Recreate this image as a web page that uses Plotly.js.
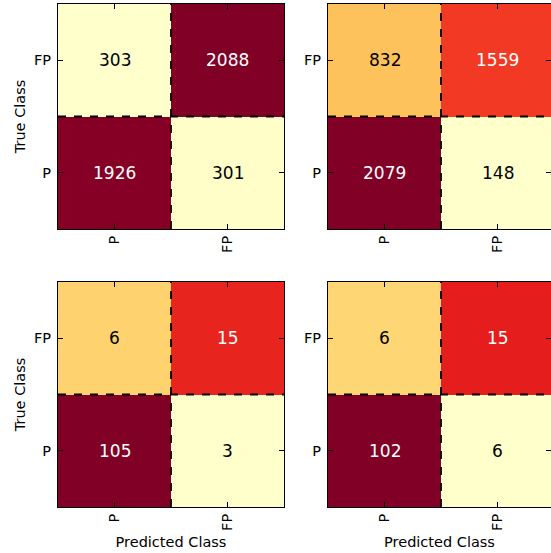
<!DOCTYPE html>
<html>
<head>
<meta charset="utf-8">
<script src="https://cdn.plot.ly/plotly-3.0.1.min.js"></script>
<style>html,body{margin:0;padding:0;background:#fff;}#chart{width:551px;height:553px;}</style>
</head>
<body>
<div id="chart"></div>
<script>
// Class labels (true rows / predicted columns)
const classes = ['P', 'FP'];
// Confusion matrices: rows = true class [P, FP], cols = predicted class [P, FP]
const cmTopLeft     = [[1926, 301], [303, 2088]];
const cmTopRight    = [[2079, 148], [832, 1559]];
const cmBottomLeft  = [[105, 3],    [6, 15]];
const cmBottomRight = [[102, 6],    [6, 15]];
const xTitle = 'Predicted Class';
const yTitle = 'True Class';

const ylorrd = [
  [0, '#ffffcc'], [0.125, '#ffeda0'], [0.25, '#fed976'], [0.375, '#feb24c'],
  [0.5, '#fd8d3c'], [0.625, '#fc4e2a'], [0.75, '#e31a1c'], [0.875, '#bd0026'], [1, '#800026']
];

const W = 551, H = 553;
const FONT = '"DejaVu Sans", "Liberation Sans", sans-serif';

const panels = [
  {cm: cmTopLeft,     col: 0, row: 0},
  {cm: cmTopRight,    col: 1, row: 0},
  {cm: cmBottomLeft,  col: 0, row: 1},
  {cm: cmBottomRight, col: 1, row: 1}
];
const colX = [[58 / W, 284 / W], [328 / W, 1]];
const colRange = [[-0.5, 1.5], [-0.5, 1.5 - 3 / 113]];
const rowY = [[(H - 229) / H, (H - 4) / H], [(H - 507) / H, (H - 282) / H]];

const data = [];
const layout = {
  width: W, height: H,
  margin: {l: 0, r: 0, t: 0, b: 0},
  paper_bgcolor: '#fff', plot_bgcolor: '#fff',
  font: {family: FONT, color: '#000'},
  showlegend: false,
  annotations: [],
  shapes: []
};

panels.forEach((p, i) => {
  const n = i + 1;
  const xa = n === 1 ? 'x' : 'x' + n;
  const ya = n === 1 ? 'y' : 'y' + n;
  const norm = p.cm.map(r => { const s = r.reduce((a, b) => a + b, 0); return r.map(v => v / s); });
  data.push({
    type: 'heatmap', x: classes, y: classes, z: norm,
    colorscale: ylorrd, showscale: false, hoverinfo: 'skip',
    xaxis: xa, yaxis: ya, xgap: 0, ygap: 0
  });
  p.cm.forEach((r, ri) => r.forEach((v, ci) => {
    layout.annotations.push({
      xref: xa, yref: ya, x: classes[ci], y: classes[ri],
      text: String(v), showarrow: false,
      font: {family: FONT, size: 17, color: norm[ri][ci] > 0.5 ? '#ffffff' : '#000000'}
    });
  }));
  const axCommon = {
    type: 'category', showgrid: false, zeroline: false,
    showline: true, linecolor: '#000', linewidth: 1, mirror: 'ticks',
    ticks: 'inside', ticklen: 5, tickwidth: 1, tickcolor: '#000',
    tickfont: {family: FONT, size: 14.5, color: '#000'}, fixedrange: true
  };
  layout['xaxis' + (n === 1 ? '' : n)] = Object.assign({}, axCommon, {
    domain: colX[p.col], range: colRange[p.col], anchor: ya, tickangle: -90,
    ticklabelstandoff: 0,
    title: p.row === 1 ? {text: xTitle, font: {family: FONT, size: 14.5, color: '#000'}, standoff: 6} : {text: ''}
  });
  layout['yaxis' + (n === 1 ? '' : n)] = Object.assign({}, axCommon, {
    domain: rowY[p.row], range: [-0.5, 1.5], anchor: xa,
    ticklabelstandoff: 3,
    title: p.col === 0 ? {text: yTitle, font: {family: FONT, size: 14.5, color: '#000'}, standoff: 4} : {text: ''}
  });
  // dashed cell boundaries
  layout.shapes.push({type: 'line', xref: xa + ' domain', yref: ya, x0: 0, x1: 1, y0: 0.5, y1: 0.5,
    line: {color: '#000', width: 1.8, dash: '8px,8px'}});
  layout.shapes.push({type: 'line', xref: xa, yref: ya + ' domain', x0: 0.5, x1: 0.5, y0: 0, y1: 1,
    line: {color: '#000', width: 1.8, dash: '8px,8px'}});
});

Plotly.newPlot('chart', data, layout, {displayModeBar: false, staticPlot: true});
</script>
</body>
</html>
